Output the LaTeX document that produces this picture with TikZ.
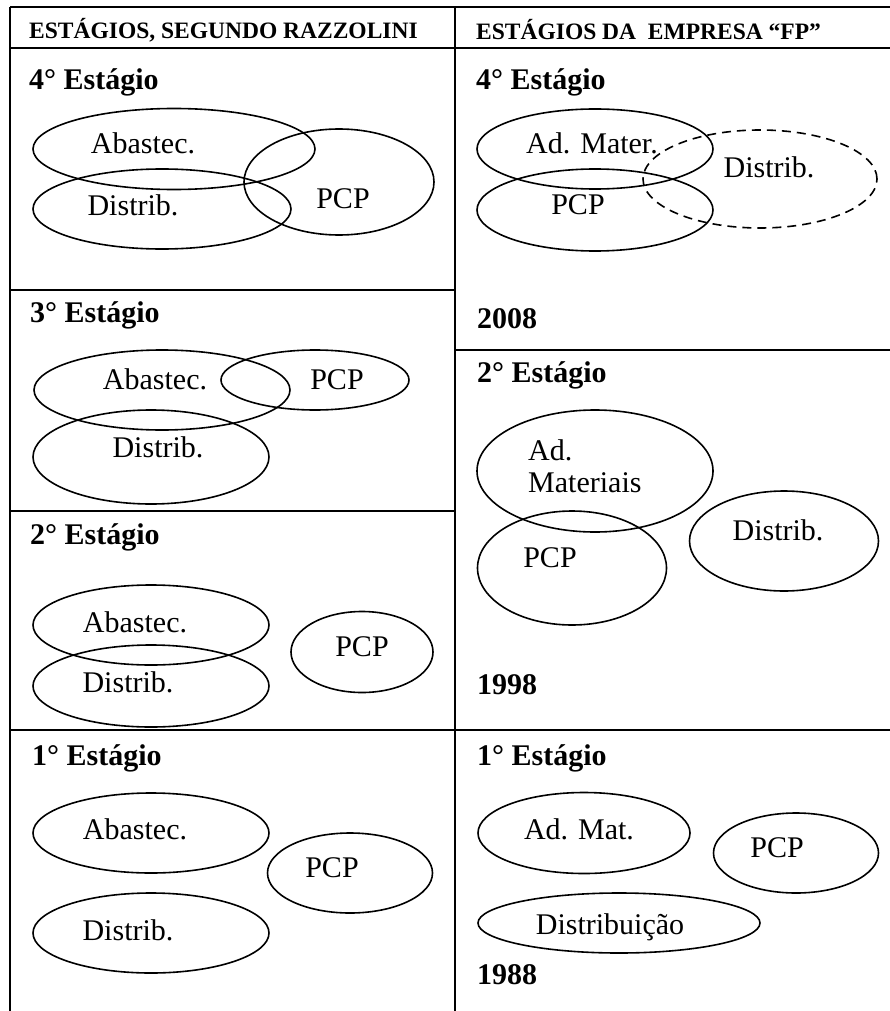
\documentclass[tikz,border=0pt]{standalone}
\usepackage{fontspec}
\setmainfont{Liberation Serif}
\usetikzlibrary{shapes.geometric}
\begin{document}
\begin{tikzpicture}[x=1pt,y=-1pt,
  rule/.style={line width=1.8pt},
  ell/.style={draw, ellipse, line width=1.6pt, inner sep=0pt},
  dashell/.style={ell, dash pattern=on 9pt off 6pt},
  lbl/.style={font=\fontsize{30}{36}\selectfont, inner sep=0pt},
  lblw/.style={lbl, anchor=west},
  head/.style={font=\bfseries\fontsize{30}{36}\selectfont, anchor=west, inner sep=0pt},
  colhead/.style={font=\bfseries\fontsize{23.5}{28}\selectfont, anchor=west, inner sep=0pt}]
\useasboundingbox (0,0) rectangle (890,1011);
% table rules
\coordinate (tl) at (10,7);
\coordinate (tr) at (890,7);
\coordinate (hl) at (10,48);
\coordinate (hr) at (890,48);
\coordinate (bl) at (10,1011);
\coordinate (tm) at (455,7);
\coordinate (bm) at (455,1011);
\coordinate (l1a) at (10,290);  \coordinate (l1b) at (455,290);
\coordinate (l2a) at (10,511);  \coordinate (l2b) at (455,511);
\coordinate (l3a) at (10,730);  \coordinate (l3b) at (890,730);
\coordinate (r1a) at (455,350); \coordinate (r1b) at (890,350);
\draw[rule] (tl) -- (tr);
\draw[rule] (hl) -- (hr);
\draw[rule] (tl) -- (bl);
\draw[rule] (tm) -- (bm);
\draw[rule] (l1a) -- (l1b);
\draw[rule] (l2a) -- (l2b);
\draw[rule] (l3a) -- (l3b);
\draw[rule] (r1a) -- (r1b);
% column headers
\node[colhead] (hleft) at (29,30) {ESTÁGIOS, SEGUNDO RAZZOLINI};
\node[colhead] (hright) at (476,30) {ESTÁGIOS DA\ \ EMPRESA “FP”};
% ---------- left column ----------
% 4
\node[head] (a4t) at (29,82) {4° Estágio};
\node[ell, minimum width=282pt, minimum height=81pt] (a4ab) at (174,149) {};
\node[ell, minimum width=258pt, minimum height=80pt] (a4di) at (162,209) {};
\node[ell, minimum width=190pt, minimum height=106pt] (a4pc) at (339,182) {};
\node[lbl] (a4abt) at (143,143) {Abastec.};
\node[lbl] (a4dit) at (133,205) {Distrib.};
\node[lbl] (a4pct) at (343,199) {PCP};
% 3
\node[head] (a3t) at (30,315) {3° Estágio};
\node[ell, minimum width=256pt, minimum height=80pt] (a3ab) at (162,390) {};
\node[ell, minimum width=188pt, minimum height=60pt] (a3pc) at (315,380) {};
\node[ell, minimum width=236pt, minimum height=94pt] (a3di) at (151,457) {};
\node[lbl] (a3abt) at (155,379) {Abastec.};
\node[lbl] (a3pct) at (337,380) {PCP};
\node[lbl] (a3dit) at (158,447) {Distrib.};
% 2
\node[head] (a2t) at (30,537) {2° Estágio};
\node[ell, minimum width=236pt, minimum height=80pt] (a2ab) at (151,625) {};
\node[ell, minimum width=236pt, minimum height=82pt] (a2di) at (151,686) {};
\node[ell, minimum width=142pt, minimum height=81pt] (a2pc) at (362,652) {};
\node[lbl] (a2abt) at (135,622) {Abastec.};
\node[lbl] (a2dit) at (128,682) {Distrib.};
\node[lbl] (a2pct) at (362,647) {PCP};
% 1
\node[head] (a1t) at (32,758) {1° Estágio};
\node[ell, minimum width=236pt, minimum height=80pt] (a1ab) at (151,833) {};
\node[ell, minimum width=165pt, minimum height=80pt] (a1pc) at (350,873) {};
\node[ell, minimum width=236pt, minimum height=80pt] (a1di) at (151,933) {};
\node[lbl] (a1abt) at (135,829) {Abastec.};
\node[lbl] (a1pct) at (332,868) {PCP};
\node[lbl] (a1dit) at (128,930) {Distrib.};
% ---------- right column ----------
% 4
\node[head] (b4t) at (476,82) {4° Estágio};
\node[ell, minimum width=236pt, minimum height=80pt] (b4am) at (595,149) {};
\node[ell, minimum width=236pt, minimum height=82pt] (b4pc) at (595,210) {};
\node[dashell, minimum width=234pt, minimum height=98pt] (b4di) at (760,179) {};
\node[lbl] (b4amt) at (592,143) {Ad. Mater.};
\node[lbl] (b4dit) at (769,167) {Distrib.};
\node[lbl] (b4pct) at (578,205) {PCP};
\node[head] (b4y) at (477,319) {2008};
% 2
\node[head] (b2t) at (477,375) {2° Estágio};
\node[ell, minimum width=236pt, minimum height=122pt] (b2am) at (595,471) {};
\node[ell, minimum width=189pt, minimum height=114pt] (b2pc) at (572,568) {};
\node[ell, minimum width=189pt, minimum height=100pt] (b2di) at (784,541) {};
\node[lblw] (b2amt1) at (528,450) {Ad.};
\node[lblw] (b2amt2) at (528,483) {Materiais};
\node[lbl] (b2pct) at (550,558) {PCP};
\node[lbl] (b2dit) at (778,530) {Distrib.};
\node[head] (b2y) at (477,685) {1998};
% 1
\node[head] (b1t) at (477,758) {1° Estágio};
\node[ell, minimum width=212pt, minimum height=81pt] (b1am) at (584,833) {};
\node[ell, minimum width=165pt, minimum height=80pt] (b1pc) at (796,853) {};
\node[ell, minimum width=282pt, minimum height=60pt] (b1di) at (619,923) {};
\node[lbl] (b1amt) at (579,829) {Ad. Mat.};
\node[lbl] (b1pct) at (777,848) {PCP};
\node[lbl] (b1dit) at (610,927) {Distribuição};
\node[head] (b1y) at (477,975) {1988};
\end{tikzpicture}
\end{document}
